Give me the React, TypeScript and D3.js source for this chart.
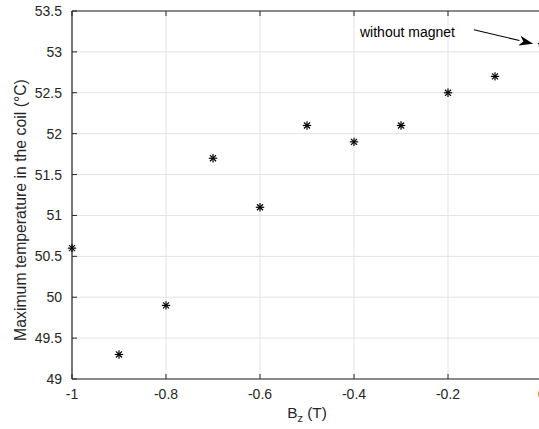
import React from "react";
import * as d3 from "d3";

const bzValues = [-1, -0.9, -0.8, -0.7, -0.6, -0.5, -0.4, -0.3, -0.2, -0.1, 0];
const tempValues = [50.6, 49.3, 49.9, 51.7, 51.1, 52.1, 51.9, 52.1, 52.5, 52.7, 53.1];
const xTicks = [-1, -0.8, -0.6, -0.4, -0.2, 0];
const yTicks = [49, 49.5, 50, 50.5, 51, 51.5, 52, 52.5, 53, 53.5];
const annotationText = "without magnet";
const arrowTarget = { x: -0.019, y: 53.1 };
const arrowStart = { x: -0.145, y: 53.27 };

const W = 539;
const H = 429;
const FONT = "'Liberation Sans', Arial, Helvetica, sans-serif";
const AX = "#262626";
const GRID = "#e3e3e3";

export default function App() {
  const x = d3.scaleLinear().domain([-1, 0]).range([72, 542]);
  const y = d3.scaleLinear().domain([49, 53.5]).range([379, 11]);
  const [x0, x1] = x.range();
  const [y0, y1] = y.range();
  const tl = 5;
  const fmt = (v: number) => (v === 0 ? "0" : String(v));

  const ax1 = x(arrowStart.x), ay1 = y(arrowStart.y);
  const ax2 = x(arrowTarget.x), ay2 = y(arrowTarget.y);
  const ang = Math.atan2(ay2 - ay1, ax2 - ax1);
  const hl = 14, hw = 5;
  const bx = ax2 - hl * Math.cos(ang), by = ay2 - hl * Math.sin(ang);
  const px = -Math.sin(ang), py = Math.cos(ang);
  const head = `M${ax2},${ay2} L${bx + hw * px},${by + hw * py} L${bx + 4 * Math.cos(ang)},${by + 4 * Math.sin(ang)} L${bx - hw * px},${by - hw * py} Z`;

  const r = 4.2;
  const rd = r * 0.72;

  return (
    <svg width={W} height={H} style={{ position: "absolute", left: 0, top: 0, background: "#fff" }} fontFamily={FONT}>
      <rect x={0} y={0} width={W} height={H} fill="#fff" />
      {xTicks.map((t) => (
        <line key={"gx" + t} x1={x(t)} x2={x(t)} y1={y0} y2={y1} stroke={GRID} strokeWidth={1} />
      ))}
      {yTicks.map((t) => (
        <line key={"gy" + t} x1={x0} x2={x1} y1={y(t)} y2={y(t)} stroke={GRID} strokeWidth={1} />
      ))}
      <line x1={x0} x2={x1} y1={y0} y2={y0} stroke={AX} strokeWidth={1.2} />
      <line x1={x0} x2={x1} y1={y1} y2={y1} stroke={AX} strokeWidth={1.2} />
      <line x1={x0} x2={x0} y1={y0} y2={y1} stroke={AX} strokeWidth={1.2} />
      {xTicks.map((t) => (
        <g key={"tx" + t}>
          <line x1={x(t)} x2={x(t)} y1={y0} y2={y0 - tl} stroke={AX} strokeWidth={1} />
          <line x1={x(t)} x2={x(t)} y1={y1} y2={y1 + tl} stroke={AX} strokeWidth={1} />
          <text x={x(t)} y={y0 + 20} textAnchor="middle" fontSize={14} fill={AX}>
            {fmt(t)}
          </text>
        </g>
      ))}
      {yTicks.map((t) => (
        <g key={"ty" + t}>
          <line x1={x0} x2={x0 + tl} y1={y(t)} y2={y(t)} stroke={AX} strokeWidth={1} />
          <text x={x0 - 10} y={y(t) + 5} textAnchor="end" fontSize={14} fill={AX}>
            {String(t)}
          </text>
        </g>
      ))}
      <text x={(x0 + x1) / 2} y={y0 + 39} textAnchor="middle" fontSize={15.4} fill={AX}>
        B<tspan fontSize={11} dy={4}>z</tspan>
        <tspan dy={-4}> (T)</tspan>
      </text>
      <text
        transform={`translate(25.5, 210) rotate(-90)`}
        textAnchor="middle"
        fontSize={15.8}
        fill={AX}
      >
        Maximum temperature in the coil (°C)
      </text>
      {bzValues.map((b, i) => {
        const cx = x(b), cy = y(tempValues[i]);
        return (
          <g key={"p" + i} stroke="#000" strokeWidth={1.2}>
            <line x1={cx - r} x2={cx + r} y1={cy} y2={cy} />
            <line x1={cx} x2={cx} y1={cy - r} y2={cy + r} />
            <line x1={cx - rd} x2={cx + rd} y1={cy - rd} y2={cy + rd} />
            <line x1={cx - rd} x2={cx + rd} y1={cy + rd} y2={cy - rd} />
          </g>
        );
      })}
      <text x={360} y={37} fontSize={14} fill="#000">
        {annotationText}
      </text>
      <line x1={ax1} y1={ay1} x2={bx} y2={by} stroke="#000" strokeWidth={1.1} />
      <path d={head} fill="#000" />
    </svg>
  );
}
